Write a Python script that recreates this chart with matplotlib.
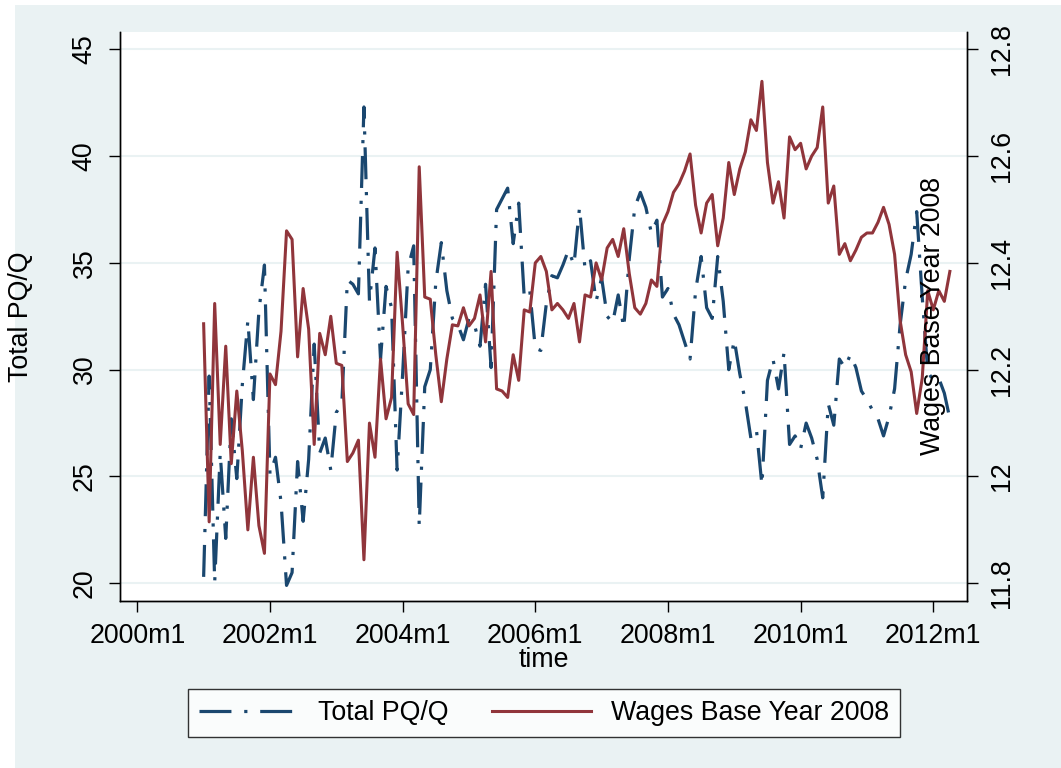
import numpy as np
import matplotlib
matplotlib.use("Agg")
import matplotlib.pyplot as plt
from matplotlib.patches import Rectangle

# monthly series, 2001m1 .. 2012m4
total_pq = [20.3, 29.7, 20.05, 26.1, 22.1, 27.7, 24.9, 29.3, 32.3, 28.6,
            32.75, 34.9, 25.1, 25.9, 23.8, 19.9, 20.5, 25.7, 22.9, 25.8,
            31.2, 26.1, 26.8, 25.3, 28.0, 28.4, 34.2, 34.0, 33.55, 42.3,
            33.2, 35.7, 30.5, 33.9, 32.9, 25.3, 29.8, 34.8, 35.8, 22.7,
            29.2, 30.0, 34.1, 35.95, 33.7, 32.4, 32.1, 31.4, 32.4, 32.1,
            31.1, 34.0, 30.1, 37.5, 38.0, 38.5, 35.9, 37.8, 33.4, 33.7,
            31.0, 30.9, 33.1, 34.4, 34.3, 34.9, 35.6, 34.9, 37.6, 34.7,
            35.1, 33.2, 34.3, 32.5, 32.2, 33.5, 31.95, 35.2, 37.6, 38.3,
            37.6, 36.4, 37.0, 33.4, 33.8, 32.6, 32.1, 31.3, 30.5, 33.7,
            35.3, 32.9, 32.4, 35.3, 33.2, 30.0, 31.4, 29.8, 28.5, 26.8,
            27.2, 24.6, 29.5, 30.5, 29.1, 30.8, 26.5, 26.9, 26.3, 27.5,
            26.8, 25.8, 24.0, 28.4, 27.4, 30.5, 30.1, 30.7, 30.1, 29.0,
            28.6, 28.1, 27.7, 26.9, 27.8, 29.1, 32.1, 34.2, 35.4, 37.4,
            33.4, 29.9, 29.5, 29.6, 28.9, 27.7]

wages = [12.286, 11.915, 12.324, 12.06, 12.244, 12.024, 12.16, 12.048, 11.90, 12.036,
         11.908, 11.856, 12.192, 12.172, 12.272, 12.46, 12.444, 12.224, 12.352, 12.276,
         12.06, 12.268, 12.228, 12.30, 12.212, 12.208, 12.028, 12.044, 12.068, 11.844,
         12.10, 12.036, 12.22, 12.108, 12.148, 12.42, 12.284, 12.136, 12.116, 12.58,
         12.336, 12.332, 12.228, 12.14, 12.22, 12.284, 12.282, 12.316, 12.282, 12.296,
         12.34, 12.252, 12.384, 12.164, 12.16, 12.148, 12.228, 12.18, 12.312, 12.308,
         12.40, 12.412, 12.384, 12.312, 12.324, 12.312, 12.296, 12.324, 12.252, 12.34,
         12.336, 12.40, 12.368, 12.428, 12.444, 12.412, 12.464, 12.38, 12.316, 12.304,
         12.324, 12.368, 12.356, 12.472, 12.496, 12.532, 12.548, 12.572, 12.604, 12.508,
         12.456, 12.512, 12.528, 12.432, 12.484, 12.588, 12.528, 12.576, 12.608, 12.668,
         12.648, 12.74, 12.588, 12.512, 12.552, 12.484, 12.636, 12.612, 12.624, 12.576,
         12.60, 12.616, 12.692, 12.512, 12.544, 12.416, 12.436, 12.404, 12.424, 12.448,
         12.456, 12.456, 12.476, 12.504, 12.472, 12.416, 12.292, 12.228, 12.196, 12.118,
         12.184, 12.348, 12.312, 12.348, 12.328, 12.384]

start_month = 12  # months after 2000m1
xtick_months = [0, 24, 48, 72, 96, 120, 144]
xtick_labels = ['2000m1', '2002m1', '2004m1', '2006m1', '2008m1', '2010m1', '2012m1']
left_ticks = [20, 25, 30, 35, 40, 45]
right_ticks = [11.8, 12, 12.2, 12.4, 12.6, 12.8]

blue = '#1a476f'
red = '#90353b'
bg = '#eaf2f3'
fs = 19.3

plt.rcParams['font.family'] = ['Liberation Sans', 'DejaVu Sans']

fig = plt.figure(figsize=(10.61, 7.68), dpi=100, facecolor='white')
fig.patches.append(Rectangle((15/1061, 0), 1, 1 - 5/768, transform=fig.transFigure,
                             facecolor=bg, edgecolor='none', zorder=-5))

ax = fig.add_axes([120/1061, 1 - 601/768, 847/1061, 569/768])
ax.set_facecolor('white')
ax2 = ax.twinx()

t = np.arange(len(total_pq)) + start_month
ax.plot(t, total_pq, color=blue, lw=2.3, linestyle=(0, (10, 4, 1, 4)),
        label='Total PQ/Q')
ax2.plot(t, wages, color=red, lw=2.2, label='Wages Base Year 2008')

ax.set_xlim(-3.13, 150.1)
ax.set_ylim(19.17, 45.81)
ax2.set_ylim(11.7668, 12.8324)

ax.set_xticks(xtick_months)
ax.set_xticklabels(xtick_labels, fontsize=fs)
ax.set_yticks(left_ticks)
ax.set_yticklabels([str(v) for v in left_ticks], fontsize=fs, rotation=90, va='center')
ax2.set_yticks(right_ticks)
ax2.set_yticklabels([f'{v:g}' for v in right_ticks], fontsize=fs, rotation=90, va='center')

ax.yaxis.grid(True, color=bg, lw=1.5)
ax.set_axisbelow(True)

for a in (ax, ax2):
    a.spines['top'].set_visible(False)
    for s in ('left', 'right', 'bottom'):
        a.spines[s].set_linewidth(1.0)
        a.spines[s].set_color('black')
    a.tick_params(direction='out', length=8, width=1, pad=8)

ax.set_xlabel('time', fontsize=fs, va='center')
ax.xaxis.set_label_coords(0.5, -(660 - 601) / 569)
ax.set_ylabel('Total PQ/Q', fontsize=fs, va='center')
ax.yaxis.set_label_coords((21 - 120) / 847, 0.5)

fig.text(933/1061, 1 - 316/768, 'Wages Base Year 2008', fontsize=fs,
         rotation=90, ha='center', va='center')

h1, l1 = ax.get_legend_handles_labels()
h2, l2 = ax2.get_legend_handles_labels()
leg = fig.legend(h1 + h2, l1 + l2, loc='center', ncol=2,
                 bbox_to_anchor=(544/1061, 1 - 713/768), fontsize=fs,
                 frameon=True, fancybox=False, edgecolor='black',
                 handlelength=3.7, handletextpad=0.75, columnspacing=1.6,
                 borderpad=0.42)
leg.get_frame().set_linewidth(1.0)
leg.get_frame().set_facecolor('white')

fig.savefig('out.png', dpi=100)
